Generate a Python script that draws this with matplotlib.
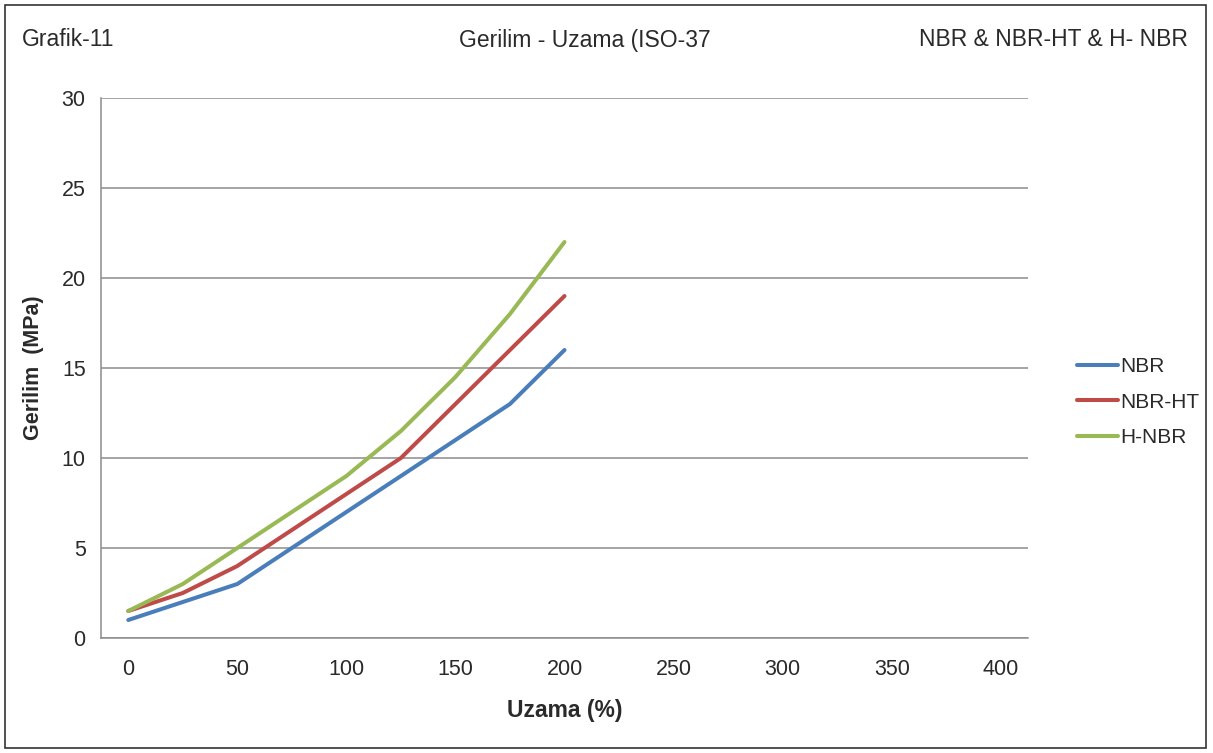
import matplotlib
matplotlib.use("Agg")
import matplotlib.pyplot as plt
from matplotlib.patches import Rectangle

plt.rcParams['font.family'] = ['Liberation Sans', 'DejaVu Sans']

uzama = [0, 25, 50, 75, 100, 125, 150, 175, 200]
nbr = [1, 2, 3, 5, 7, 9, 11, 13, 16]
nbr_ht = [1.5, 2.5, 4, 6, 8, 10, 13, 16, 19]
h_nbr = [1.5, 3, 5, 7, 9, 11.5, 14.5, 18, 22]
series_names = ["NBR", "NBR-HT", "H-NBR"]
colors = ["#4A7EBB", "#BE4B48", "#98B954"]
xticks = [0, 50, 100, 150, 200, 250, 300, 350, 400]
yticks = [0, 5, 10, 15, 20, 25, 30]

W, H = 1213, 753
fig = plt.figure(figsize=(W/100, H/100), dpi=100)
fig.patch.set_facecolor('white')
fig.add_artist(Rectangle((5/W, 5/H), 1201/W, 743/H, transform=fig.transFigure,
                         fill=False, edgecolor='#333333', linewidth=1.2))

ax = fig.add_axes([101/W, (H-638)/H, 927/W, 540/H])
for name, vals, c in zip(series_names, [nbr, nbr_ht, h_nbr], colors):
    ax.plot(uzama, vals, color=c, linewidth=2.9, label=name, solid_capstyle='round')

ax.set_xlim(-12.5, 412.5)
ax.set_ylim(0, 30)
ax.set_xticks(xticks)
ax.set_yticks(yticks)
ax.tick_params(axis='both', length=0, labelsize=15.5, colors='#2a2a2a')
ax.tick_params(axis='x', pad=15)
ax.tick_params(axis='y', pad=11)
ax.grid(axis='y', color='#8c8c8c', linewidth=1.1)
ax.set_axisbelow(True)
for s in ['top', 'right']:
    ax.spines[s].set_visible(False)
for s in ['left', 'bottom']:
    ax.spines[s].set_color('#8c8c8c')
    ax.spines[s].set_linewidth(1.1)

ax.set_xlabel("Uzama (%)", fontsize=16.5, fontweight='bold', color='#2a2a2a', labelpad=14)
ax.set_ylabel("Gerilim  (MPa)", fontsize=15.5, fontweight='bold', color='#2a2a2a', labelpad=13)

fig.text(22/W, 1-40/H, "Grafik-11", fontsize=16.5, va='center', ha='left', color='#2a2a2a')
fig.text(585/W, 1-40/H, "Gerilim - Uzama (ISO-37", fontsize=16.5, va='center', ha='center', color='#2a2a2a')
fig.text(1188/W, 1-40/H, "NBR & NBR-HT & H- NBR", fontsize=16.5, va='center', ha='right', color='#2a2a2a')

fig.legend(loc='center left', bbox_to_anchor=(1058/W, 1-402/H), frameon=False,
           fontsize=15, handlelength=2.0, handletextpad=0.08, labelspacing=0.8,
           labelcolor='#2a2a2a')

fig.savefig("out.png", dpi=100)
